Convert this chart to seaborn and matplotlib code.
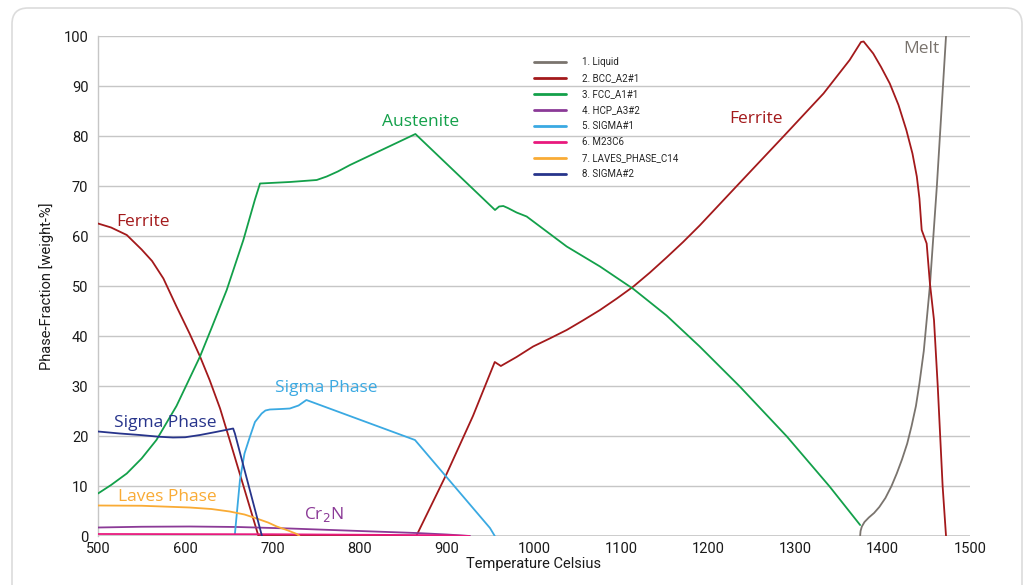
import matplotlib
matplotlib.use("Agg")
import matplotlib.pyplot as plt
import seaborn as sns
import pandas as pd
from matplotlib.patches import FancyBboxPatch

# ---------------- data ----------------
liquid_T = [1374, 1374.5, 1376, 1379, 1384, 1390, 1396, 1403, 1410, 1416, 1422, 1428, 1433,
            1438, 1442, 1447, 1454, 1462, 1472.5]
liquid_y = [0, 1.0, 1.9, 2.8, 3.7, 4.6, 5.8, 7.6, 10, 12.5, 15.3, 18.5, 22,
            26, 30.5, 37, 50, 70, 100]

bcc_T = [500, 515, 533, 550, 562, 575, 590, 605, 617, 628, 640, 651, 684, 865, 900, 930, 955, 962,
         980, 999, 1018, 1037.5, 1056, 1075.7, 1095, 1114, 1133, 1152, 1171, 1190, 1232, 1286,
         1332, 1362, 1375, 1378, 1389, 1398, 1408, 1418, 1427, 1434, 1439, 1442, 1444.6, 1450.3,
         1454, 1458.7, 1463, 1468.6, 1472.5]
bcc_y = [62.5, 61.7, 60.2, 57.3, 55.0, 51.5, 45.9, 40.5, 35.9, 31.2, 25.5, 19.2, 0, 0, 12.5, 24,
         34.8, 34.0, 35.8, 37.9, 39.5, 41.2, 43.1, 45.2, 47.5, 49.9, 52.7, 55.7, 58.8, 62.1, 69.9,
         79.9, 88.5, 95.2, 98.8, 98.9, 96.5, 93.8, 90.5, 86.2, 81.2, 76.5, 71.9, 67.5, 61.2, 58.5,
         50.6, 43.2, 30, 10, 0]

fcc_T = [500, 515, 533, 550, 567, 590, 617, 630, 647.6, 666.7, 680, 685.8, 720, 750.8, 762.3,
         775, 789, 864, 955.3, 960, 964.8, 970, 980, 991.6, 1037.5, 1075.7, 1114, 1152, 1190,
         1236, 1290, 1339, 1374]
fcc_y = [8.5, 10.2, 12.5, 15.5, 19.2, 26, 35.9, 41.5, 49.2, 59.2, 67.3, 70.5, 70.8, 71.2, 71.9,
         72.9, 74.2, 80.4, 65.2, 65.9, 66.0, 65.6, 64.7, 63.9, 57.9, 53.9, 49.4, 44.1, 37.9,
         29.9, 19.9, 9.9, 2.2]

hcp_T = [500, 550, 605, 660, 720, 800, 865, 900, 926.6]
hcp_y = [1.7, 1.85, 1.9, 1.8, 1.5, 1.0, 0.6, 0.3, 0]

sigma1_T = [657, 660, 662.8, 668, 674.3, 680, 687.7, 692, 697, 710, 720, 730, 739, 863.5, 949.5, 955]
sigma1_y = [0.4, 6, 11.2, 16.5, 19.9, 22.8, 24.5, 25.1, 25.3, 25.4, 25.5, 26.1, 27.2, 19.2, 1.6, 0]

m23c6_T = [500, 700, 900, 926]
m23c6_y = [0.4, 0.35, 0.15, 0]

laves_T = [500, 550, 605, 630, 651, 668, 682, 695, 705, 718, 728, 731]
laves_y = [6.1, 6.05, 5.7, 5.4, 4.9, 4.3, 3.5, 2.7, 1.9, 1.1, 0.4, 0]

sigma2_T = [500, 525, 548, 570, 586, 600, 617, 635, 655, 657, 688]
sigma2_y = [20.9, 20.5, 20.2, 19.85, 19.7, 19.75, 20.2, 20.8, 21.5, 20.5, 0]

phase_labels = ["1. Liquid", "2. BCC_A2#1", "3. FCC_A1#1", "4. HCP_A3#2", "5. SIGMA#1",
                "6. M23C6", "7. LAVES_PHASE_C14", "8. SIGMA#2"]
phase_colors = ["#7a746e", "#a3191b", "#13a04a", "#8b3a97", "#3aa9e2",
                "#e8197d", "#f9ab35", "#27348b"]

x_ticks = [500, 600, 700, 800, 900, 1000, 1100, 1200, 1300, 1400, 1500]
y_ticks = [0, 10, 20, 30, 40, 50, 60, 70, 80, 90, 100]

annotations = [
    ("Ferrite", 551.6, 62.8, 1),
    ("Austenite", 870.4, 82.8, 2),
    ("Ferrite", 1254.6, 83.4, 1),
    ("Melt", 1443.8, 97.4, 0),
    ("Sigma Phase", 761.5, 29.6, 4),
    ("Sigma Phase", 576.8, 22.6, 7),
    ("Laves Phase", 579, 7.8, 6),
    ("Cr$_2$N", 759, 4.2, 3),
]

# ---------------- build long table ----------------
series = [(liquid_T, liquid_y), (bcc_T, bcc_y), (fcc_T, fcc_y), (hcp_T, hcp_y),
          (sigma1_T, sigma1_y), (m23c6_T, m23c6_y), (laves_T, laves_y), (sigma2_T, sigma2_y)]
frames = []
for lab, (t, y) in zip(phase_labels, series):
    frames.append(pd.DataFrame({"T": t, "y": y, "phase": lab}))
df = pd.concat(frames, ignore_index=True)

# ---------------- plot ----------------
sns.set_style("white")
plt.rcParams["font.family"] = ["Roboto", "DejaVu Sans"]

fig = plt.figure(figsize=(10.27, 5.85), dpi=100)
border = FancyBboxPatch((0.12, -0.5), 10.10, 6.27,
                        boxstyle="round,pad=0,rounding_size=0.16",
                        transform=fig.dpi_scale_trans, facecolor="none",
                        edgecolor="#dcdcdc", linewidth=1.2, zorder=-5)
fig.patches.append(border)

ax = fig.add_axes([98 / 1027, 49 / 585, 872 / 1027, 500 / 585])
ax.set_facecolor("none")

for lab, col in zip(phase_labels, phase_colors):
    sub = df[df["phase"] == lab]
    sns.lineplot(data=sub, x="T", y="y", sort=False, estimator=None, color=col,
                 linewidth=1.3, label=lab, ax=ax, zorder=3)

ax.set_xlim(500, 1500)
ax.set_ylim(0, 100)
ax.set_xticks(x_ticks)
ax.set_yticks(y_ticks)
ax.tick_params(axis="both", length=0, labelsize=10.5, colors="#1a1a1a")
ax.tick_params(axis="x", pad=4)
ax.tick_params(axis="y", pad=7)
ax.yaxis.grid(True, color="#c6c6c6", linewidth=1.0, zorder=0)
ax.xaxis.grid(False)
for s in ["top", "right", "bottom"]:
    ax.spines[s].set_visible(False)
ax.spines["left"].set_color("#c6c6c6")
ax.spines["left"].set_linewidth(1.0)
ax.axhline(0, color="#c6c6c6", linewidth=1.2, zorder=1)

ax.set_xlabel("Temperature Celsius", fontsize=10.5, color="#1a1a1a", labelpad=1)
ax.set_ylabel("Phase-Fraction [weight-%]", fontsize=10.5, color="#1a1a1a", labelpad=7)

for txt, tx, ty, ci in annotations:
    ax.text(tx, ty, txt, color=phase_colors[ci], fontsize=12.5, ha="center", va="center",
            family=["Open Sans", "DejaVu Sans"], zorder=4)

leg = ax.legend(loc="upper left", bbox_to_anchor=(0.49, 0.975), frameon=False,
                fontsize=7, handlelength=3.3, handletextpad=1.6, labelspacing=0.62)
for h in leg.get_lines():
    h.set_linewidth(2.0)

fig.savefig("out.png", dpi=100)
